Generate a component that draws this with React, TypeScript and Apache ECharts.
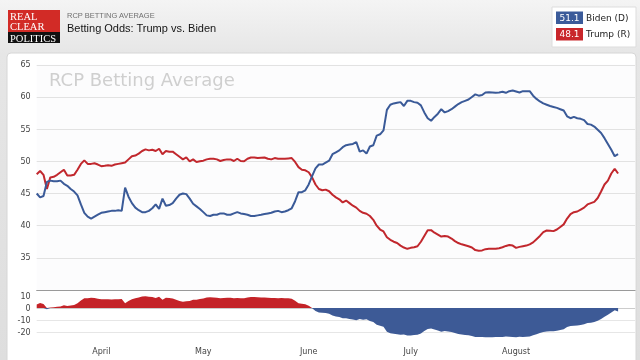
import React, { useEffect, useRef } from "react";
import * as echarts from "echarts";

// ---- data -------------------------------------------------------------
const START_DATE = "2020-03-13"; // first daily observation
const AXIS_DAYS = 177; // axis runs a few days past the last value
const MONTH_NAMES = ["January", "February", "March", "April", "May", "June", "July", "August", "September", "October", "November", "December"];

const BIDEN = [
  45.0, 44.4, 44.6, 46.8, 47.0, 46.9, 46.9, 47.0, 46.5, 46.2,
  45.7, 45.3, 44.7, 43.3, 42.0, 41.4, 41.1, 41.4, 41.7, 42.0,
  42.1, 42.2, 42.3, 42.3, 42.4, 42.3, 45.9, 44.5, 43.5, 42.8,
  42.4, 42.1, 42.1, 42.3, 42.7, 43.3, 42.6, 44.2, 43.1, 43.2,
  43.5, 44.2, 44.8, 45.0, 44.9, 44.2, 43.4, 43.0, 42.6, 42.1,
  41.6, 41.5, 41.7, 41.7, 41.9, 41.9, 41.7, 41.7, 41.9, 42.1,
  41.9, 41.8, 41.7, 41.5, 41.5, 41.6, 41.7, 41.8, 41.9, 42.0,
  42.2, 42.3, 42.1, 42.2, 42.4, 42.7, 43.8, 45.2, 45.2, 45.5,
  46.4, 47.7, 48.9, 49.5, 49.5, 49.8, 50.1, 51.1, 51.4, 51.7,
  52.2, 52.5, 52.6, 52.7, 53.0, 51.5, 51.7, 51.2, 52.3, 52.5,
  54.0, 54.2, 54.8, 58.0, 58.8, 59.0, 59.1, 59.2, 58.6, 59.4,
  59.4, 59.2, 59.1, 58.7, 57.6, 56.7, 56.3, 56.9, 57.4, 58.1,
  57.6, 57.8, 58.1, 58.5, 58.9, 59.2, 59.4, 59.6, 60.0, 60.4,
  60.2, 60.3, 60.7, 60.75, 60.7, 60.65, 60.7, 60.8, 60.65, 60.9,
  61.0, 60.85, 60.7, 60.9, 60.9, 60.9, 60.2, 59.7, 59.3, 59.0,
  58.8, 58.6, 58.45, 58.3, 58.1, 57.9, 57.0, 56.7, 56.9, 56.7,
  56.6, 56.4, 55.8, 55.7, 55.4, 54.9, 54.4, 53.6, 52.7, 51.8,
  50.8, 51.1,
];

const TRUMP = [
  48.0, 48.5, 47.9, 45.7, 47.5, 47.6, 47.9, 48.3, 48.7, 47.8,
  47.8, 47.9, 48.7, 49.6, 50.15, 49.6, 49.6, 49.7, 49.5, 49.25,
  49.3, 49.4, 49.3, 49.5, 49.6, 49.7, 49.8, 50.3, 50.8, 50.9,
  51.2, 51.6, 51.85, 51.7, 51.8, 51.6, 51.95, 51.1, 51.6, 51.5,
  51.5, 51.1, 50.7, 50.3, 50.6, 50.0, 50.3, 49.9, 50.0, 50.1,
  50.3, 50.4, 50.4, 50.3, 50.05, 50.2, 50.3, 50.3, 50.05, 50.4,
  50.05, 50.0, 50.4, 50.6, 50.6, 50.5, 50.55, 50.6, 50.4, 50.3,
  50.5, 50.4, 50.4, 50.4, 50.45, 50.5, 49.9, 49.1, 48.7, 48.6,
  48.3, 47.5, 46.4, 45.7, 45.5, 45.6, 45.35, 44.8, 44.4, 44.1,
  43.6, 43.9, 43.5, 43.1, 42.8, 42.3, 42.0, 41.85, 41.5, 40.9,
  40.0, 39.4, 39.1, 38.2, 37.8, 37.5, 37.3, 36.9, 36.6, 36.4,
  36.55, 36.65, 36.8, 37.5, 38.4, 39.3, 39.3, 38.9, 38.6, 38.3,
  38.4, 38.3, 38.0, 37.6, 37.3, 37.1, 36.95, 36.8, 36.6, 36.2,
  36.1, 36.15, 36.35, 36.4, 36.4, 36.4, 36.5, 36.65, 36.85, 37.0,
  36.9, 36.55, 36.7, 36.8, 36.9, 37.1, 37.4, 37.9, 38.4, 39.0,
  39.25, 39.2, 39.15, 39.4, 39.8, 40.2, 41.1, 41.8, 42.1, 42.2,
  42.5, 42.8, 43.3, 43.5, 43.7, 44.3, 45.3, 46.4, 47.0, 48.1,
  48.85, 48.1,
];

const MAIN_AXIS = { min: 30, max: 65, interval: 5 };
const SPREAD_AXIS = { min: -30, max: 10, interval: 10 };

const BLUE = "#3a5a98";
const RED = "#c1272d";

function buildDates(): string[] {
  const out: string[] = [];
  const t0 = Date.parse(START_DATE + "T00:00:00Z");
  for (let i = 0; i < AXIS_DAYS; i++) {
    out.push(new Date(t0 + i * 86400000).toISOString().slice(0, 10));
  }
  return out;
}

export default function App() {
  const ref = useRef<HTMLDivElement>(null);

  useEffect(() => {
    if (!ref.current) return;
    const chart = echarts.init(ref.current, null, { renderer: "svg" });
    const dates = buildDates();
    const spread = TRUMP.map((t, i) => +(t - BIDEN[i]).toFixed(2));
    const spreadPos = spread.map((v) => (v > 0 ? v : 0));
    const spreadNeg = spread.map((v) => (v < 0 ? v : 0));
    const lastBiden = BIDEN[BIDEN.length - 1].toFixed(1);
    const lastTrump = TRUMP[TRUMP.length - 1].toFixed(1);

    const isMonthStart = (i: number, v: string) => i < BIDEN.length && v.slice(8, 10) === "01";
    const labelFont = { fontFamily: "DejaVu Sans", fontSize: 8, color: "#444" };

    chart.setOption({
      animation: false,
      title: {
        text: "RCP Betting Average",
        left: 49,
        top: 70,
        padding: 0,
        textStyle: { fontFamily: "DejaVu Sans", fontSize: 18, fontWeight: "normal", color: "#cfcfcf" },
      },
      graphic: [
        {
          type: "rect",
          z: -10,
          shape: { x: 0, y: 0, width: 640, height: 360 },
          style: {
            fill: new echarts.graphic.LinearGradient(0, 0, 0, 1, [
              { offset: 0, color: "#f4f4f4" },
              { offset: 0.15, color: "#e6e6e6" },
              { offset: 1, color: "#dedede" },
            ]),
          },
        },
        {
          type: "rect",
          z: -9,
          shape: { x: 7, y: 53, width: 629, height: 312, r: 4 },
          style: { fill: "#ffffff", stroke: "#d6d6d6", lineWidth: 1 },
        },
        { type: "rect", shape: { x: 8, y: 10, width: 52, height: 22 }, style: { fill: "#d22b26" } },
        { type: "rect", shape: { x: 8, y: 32, width: 52, height: 11 }, style: { fill: "#111111" } },
        { type: "text", x: 10, y: 11, style: { text: "REAL", fill: "#fff", font: "10.5px 'Liberation Serif'" } },
        { type: "text", x: 10, y: 21, style: { text: "CLEAR", fill: "#fff", font: "10.5px 'Liberation Serif'" } },
        { type: "text", x: 10, y: 32.5, style: { text: "POLITICS", fill: "#fff", font: "10.5px 'Liberation Serif'" } },
        {
          type: "text", x: 67, y: 15,
          style: { text: "RCP BETTING AVERAGE", fill: "#707070", font: "7.5px 'Liberation Sans'", verticalAlign: "middle" },
        },
        {
          type: "text", x: 67, y: 27.5,
          style: { text: "Betting Odds: Trump vs. Biden", fill: "#151515", font: "11px 'Liberation Sans'", verticalAlign: "middle" },
        },
        {
          type: "rect",
          shape: { x: 552, y: 7, width: 84, height: 40 },
          style: { fill: "#ffffff", stroke: "#dddddd", lineWidth: 1 },
        },
        { type: "rect", shape: { x: 556, y: 11.5, width: 27, height: 12.5 }, style: { fill: "#3b5b9a" } },
        { type: "rect", shape: { x: 556, y: 28, width: 27, height: 12.5 }, style: { fill: "#c9262b" } },
        {
          type: "text", x: 569.5, y: 17.8,
          style: { text: lastBiden, fill: "#fff", font: "9px 'DejaVu Sans'", align: "center", verticalAlign: "middle" },
        },
        {
          type: "text", x: 569.5, y: 34.3,
          style: { text: lastTrump, fill: "#fff", font: "9px 'DejaVu Sans'", align: "center", verticalAlign: "middle" },
        },
        {
          type: "text", x: 586, y: 17.8,
          style: { text: "Biden (D)", fill: "#222", font: "9px 'DejaVu Sans'", verticalAlign: "middle" },
        },
        {
          type: "text", x: 586, y: 34.3,
          style: { text: "Trump (R)", fill: "#222", font: "9px 'DejaVu Sans'", verticalAlign: "middle" },
        },
      ],
      grid: [
        { left: 36.7, top: 64.8, width: 598.4, height: 225.2, show: true, backgroundColor: "#fcfcfd", borderWidth: 0 },
        { left: 36.7, top: 296, width: 598.4, height: 48, show: false },
      ],
      xAxis: [
        {
          type: "category",
          gridIndex: 0,
          data: dates,
          boundaryGap: false,
          axisLine: { show: true, lineStyle: { color: "#9a9a9a", width: 1 } },
          axisTick: { show: false },
          axisLabel: { show: false },
          splitLine: { show: false },
        },
        {
          type: "category",
          gridIndex: 1,
          data: dates,
          boundaryGap: false,
          axisLine: { show: false },
          axisTick: { show: false },
          axisLabel: {
            ...labelFont,
            margin: 3,
            interval: isMonthStart,
            formatter: (v: string) => MONTH_NAMES[parseInt(v.slice(5, 7), 10) - 1],
          },
          splitLine: { show: false },
        },
      ],
      yAxis: [
        {
          type: "value",
          gridIndex: 0,
          min: MAIN_AXIS.min,
          max: MAIN_AXIS.max,
          interval: MAIN_AXIS.interval,
          axisLine: { show: false },
          axisTick: { show: false },
          axisLabel: { ...labelFont, margin: 6, showMinLabel: false },
          splitLine: { show: true, lineStyle: { color: "#e2e2e2", width: 1 } },
        },
        {
          type: "value",
          gridIndex: 1,
          min: SPREAD_AXIS.min,
          max: SPREAD_AXIS.max,
          interval: SPREAD_AXIS.interval,
          axisLine: { show: false },
          axisTick: { show: false },
          axisLabel: { ...labelFont, margin: 6, showMinLabel: false },
          splitLine: {
            show: true,
            lineStyle: { color: ["rgba(0,0,0,0)", "#e6e6e6", "#e6e6e6", "#cccccc", "rgba(0,0,0,0)"], width: 1 },
          },
        },
      ],
      series: [
        {
          name: "Trump (R)",
          type: "line",
          xAxisIndex: 0,
          yAxisIndex: 0,
          data: TRUMP,
          showSymbol: false,
          lineStyle: { color: RED, width: 2 },
          itemStyle: { color: RED },
        },
        {
          name: "Biden (D)",
          type: "line",
          xAxisIndex: 0,
          yAxisIndex: 0,
          data: BIDEN,
          showSymbol: false,
          lineStyle: { color: BLUE, width: 2 },
          itemStyle: { color: BLUE },
        },
        {
          name: "Trump lead",
          type: "line",
          xAxisIndex: 1,
          yAxisIndex: 1,
          data: spreadPos,
          showSymbol: false,
          lineStyle: { width: 0 },
          areaStyle: { color: "#c42328", opacity: 1, origin: 0 },
        },
        {
          name: "Biden lead",
          type: "line",
          xAxisIndex: 1,
          yAxisIndex: 1,
          data: spreadNeg,
          showSymbol: false,
          lineStyle: { width: 0 },
          areaStyle: { color: "#3d5a96", opacity: 1, origin: 0 },
        },
      ],
    });
    return () => chart.dispose();
  }, []);

  return <div ref={ref} style={{ position: "fixed", left: 0, top: 0, width: 640, height: 360 }} />;
}
